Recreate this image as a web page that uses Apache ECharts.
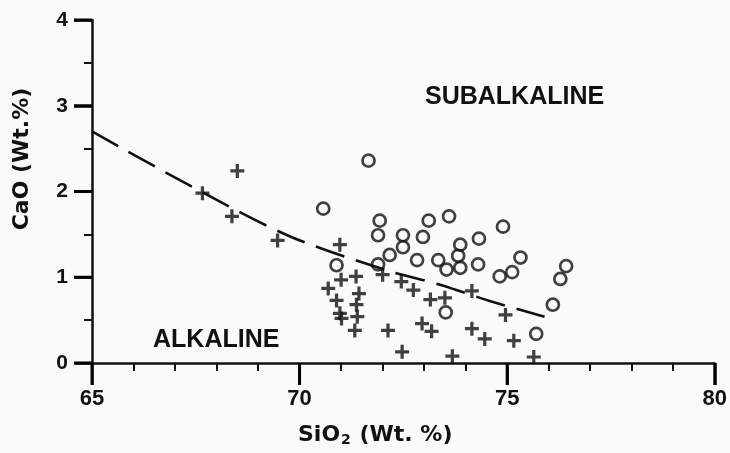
<!DOCTYPE html>
<html>
<head>
<meta charset="utf-8">
<script src="https://cdn.jsdelivr.net/npm/echarts@6/dist/echarts.min.js"></script>
<style>
html,body{margin:0;padding:0;background:#fafaf8;}
#chart{width:730px;height:453px;}
</style>
</head>
<body>
<div id="chart"></div>
<script>
// SiO2 / CaO, wt.%
var subalkaline = [
    [71.66,2.36],[70.57,1.80],[71.93,1.66],[71.89,1.49],[72.49,1.49],[72.49,1.35],
    [72.17,1.26],[71.89,1.15],[70.89,1.14],[73.11,1.66],[72.97,1.47],[73.60,1.71],
    [72.83,1.20],[73.34,1.20],[73.54,1.09],[73.87,1.38],[73.82,1.25],[73.87,1.11],
    [74.32,1.45],[74.30,1.15],[74.90,1.59],[75.32,1.23],[75.12,1.06],[74.82,1.01],
    [76.42,1.13],[76.28,0.98],[76.10,0.68],[75.70,0.34],[73.52,0.59]
];
var alkaline = [
    [68.50,2.24],[67.66,1.98],[68.37,1.71],[69.47,1.43],
    [70.97,1.38],[71.00,0.97],[70.69,0.87],[70.89,0.73],[70.97,0.58],[71.01,0.52],
    [71.36,1.01],[71.43,0.81],[71.37,0.68],[71.39,0.54],[71.33,0.38],
    [72.00,1.03],[72.13,0.38],[72.45,0.95],[72.74,0.85],[73.15,0.74],[73.50,0.76],
    [72.95,0.46],[73.18,0.37],[72.47,0.13],[73.68,0.08],[74.15,0.84],[74.15,0.40],
    [74.46,0.28],[74.96,0.56],[75.16,0.26],[75.64,0.07]
];
// dividing line
var divide = [[65,2.70],[67.7,1.98],[69.8,1.47],[72.1,1.08],[73.4,0.91],[74.6,0.72],[75.9,0.54]];
// labelled ticks
var xTicks = [65, 70, 75, 80];
var yTicks = [0, 1, 2, 3, 4];

var ink = '#111';
var fnt = 'Liberation Sans';
var plus = 'path://M5,0 L8,0 L8,5 L13,5 L13,8 L8,8 L8,13 L5,13 L5,8 L0,8 L0,5 L5,5 Z';

var myChart = echarts.init(document.getElementById('chart'));
var option = {
    backgroundColor: '#fafaf8',
    animation: false,
    grid: {left: 92, right: 11, top: 20, bottom: 90},
    xAxis: {
        type: 'value', min: 65, max: 80, interval: 5,
        splitLine: {show: false},
        axisLine: {lineStyle: {color: ink, width: 2.5}},
        axisTick: {show: true, length: 22, lineStyle: {color: ink, width: 2.5}},
        minorTick: {show: true, splitNumber: 5, length: 8, lineStyle: {color: ink, width: 2}},
        axisLabel: {color: ink, fontFamily: fnt, fontWeight: 'bold', fontSize: 22, margin: 25}
    },
    yAxis: {
        type: 'value', min: 0, max: 4, interval: 1,
        splitLine: {show: false},
        axisLine: {show: true, lineStyle: {color: ink, width: 2.5}},
        axisTick: {show: true, length: 18, lineStyle: {color: ink, width: 2.5}},
        minorTick: {show: true, splitNumber: 2, length: 8, lineStyle: {color: ink, width: 2}},
        axisLabel: {color: ink, fontFamily: fnt, fontWeight: 'bold', fontSize: 21, margin: 24}
    },
    graphic: [
        {type: 'text', left: 425, top: 85,
         style: {text: 'SUBALKALINE', fill: ink, font: 'bold 25px "Liberation Sans"'}},
        {type: 'text', left: 153, top: 328,
         style: {text: 'ALKALINE', fill: ink, font: 'bold 25px "Liberation Sans"'}},
        {type: 'text', left: 298, top: 424,
         style: {
             text: '{a|SiO}{s|2}{a| (Wt. %)}',
             rich: {
                 a: {fill: ink, font: 'bold 22px "DejaVu Sans"'},
                 s: {fill: ink, font: 'bold 14px "DejaVu Sans"', padding: [10, 1, 0, 1]}
             }
         }},
        {type: 'text', x: 22, y: 159, rotation: Math.PI / 2,
         style: {text: 'CaO (Wt.%)', fill: ink, font: 'bold 22px "DejaVu Sans"',
                 align: 'center', verticalAlign: 'middle'}}
    ],
    series: [
        {
            name: 'divide', type: 'line', data: divide, smooth: 0.3,
            showSymbol: false, silent: true,
            lineStyle: {color: ink, width: 2.6, type: [30, 12]}
        },
        {
            name: 'subalkaline', type: 'scatter', data: subalkaline,
            symbol: 'circle', symbolSize: 12,
            itemStyle: {color: 'rgba(0,0,0,0)', borderColor: ink, borderWidth: 2.7}
        },
        {
            name: 'alkaline', type: 'scatter', data: alkaline,
            symbol: plus, symbolSize: 14,
            itemStyle: {color: ink}
        }
    ]
};
myChart.setOption(option);

// long ticks at the labelled values, placed through the chart's own scales
var tickLines = [];
xTicks.forEach(function (v) {
    var p = myChart.convertToPixel({gridIndex: 0}, [v, 0]);
    tickLines.push({type: 'line', z: 100, silent: true,
        shape: {x1: p[0], y1: p[1], x2: p[0], y2: p[1] + 22},
        style: {stroke: '#000', lineWidth: 3}});
});
yTicks.forEach(function (v) {
    var p = myChart.convertToPixel({gridIndex: 0}, [65, v]);
    tickLines.push({type: 'line', z: 100, silent: true,
        shape: {x1: p[0] - 18, y1: p[1], x2: p[0], y2: p[1]},
        style: {stroke: '#000', lineWidth: 3}});
});
myChart.setOption({graphic: option.graphic.concat(tickLines)});
</script>
</body>
</html>
